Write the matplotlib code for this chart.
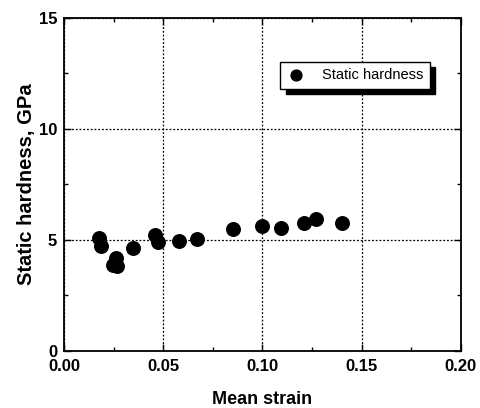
import matplotlib
matplotlib.use("Agg")
import matplotlib.pyplot as plt
from matplotlib.ticker import MultipleLocator

plt.rcParams['font.family'] = ['Liberation Sans', 'DejaVu Sans']

strain = [0.0178, 0.0186, 0.0249, 0.0262, 0.0269, 0.0346, 0.0460, 0.0475,
          0.0581, 0.0670, 0.0850, 0.0999, 0.1092, 0.1209, 0.1270, 0.1400]
hardness = [5.07, 4.72, 3.87, 4.17, 3.84, 4.62, 5.22, 4.92,
            4.93, 5.02, 5.47, 5.64, 5.52, 5.74, 5.94, 5.74]
xticks = [0.00, 0.05, 0.10, 0.15, 0.20]
xticklabels = ["0.00", "0.05", "0.10", "0.15", "0.20"]
yticks = [0, 5, 10, 15]
yticklabels = ["0", "5", "10", "15"]

fig = plt.figure(figsize=(4.81, 4.08), dpi=100)
ax = fig.add_axes([0.133, 0.1397, 0.825, 0.8173])

ax.scatter(strain, hardness, s=95, color='black', zorder=3, label='Static hardness')

ax.set_xlim(0, 0.20)
ax.set_ylim(0, 15)
ax.set_xticks(xticks)
ax.set_xticklabels(xticklabels, fontweight='bold', fontsize=12)
ax.set_yticks(yticks)
ax.set_yticklabels(yticklabels, fontweight='bold', fontsize=12)
ax.xaxis.set_minor_locator(MultipleLocator(0.025))
ax.yaxis.set_minor_locator(MultipleLocator(2.5))
ax.tick_params(which='both', direction='in', top=True, right=True, width=1)
ax.tick_params(which='major', length=5)
ax.tick_params(axis='x', which='major', pad=6)
ax.tick_params(axis='y', which='major', pad=5)
ax.tick_params(which='minor', length=3)
for sp in ax.spines.values():
    sp.set_linewidth(1.3)

ax.grid(True, which='major', linestyle=(0, (1.5, 1.5)), color='black', linewidth=0.9)

ax.set_xlabel('Mean strain', fontweight='bold', fontsize=13, labelpad=12)
ax.set_ylabel('Static hardness, GPa', fontweight='bold', fontsize=14.5, labelpad=2)

leg = ax.legend(loc='upper right', bbox_to_anchor=(0.94, 0.89), fancybox=False,
                framealpha=1, edgecolor='black', fontsize=10.5, handletextpad=1.2,
                borderpad=0.45, handlelength=1.2, markerscale=0.8,
                shadow={'color': 'black', 'alpha': 1, 'ox': 4, 'oy': -4})
leg.get_frame().set_linewidth(1.0)

fig.savefig('out.png', dpi=100)
